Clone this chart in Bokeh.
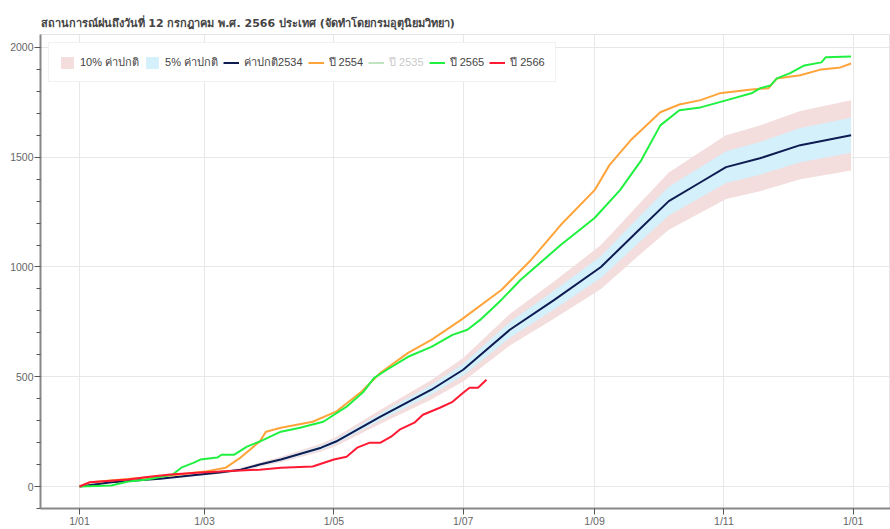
from bokeh.plotting import figure
from bokeh.models import Range1d, FixedTicker, ColumnDataSource, Legend, LegendItem
from bokeh.embed import file_html
from bokeh.resources import INLINE

# ---------------- data (day of year, 0 = 1 Jan) ----------------
tick_days = [0, 59, 120, 181, 243, 304, 365]
tick_labels = ["1/01", "1/03", "1/05", "1/07", "1/09", "1/11", "1/01"]

normal_days = [0, 15, 38, 57, 66, 76, 85, 95, 114, 121, 142, 166, 181, 203, 224,
               246, 264, 278, 293, 305, 321, 340, 364]
normal_vals = [0, 20, 36, 55, 64, 77, 100, 123, 177, 205, 318, 441, 532, 714, 850,
               1000, 1170, 1300, 1386, 1455, 1495, 1555, 1600]

y2554_days = [0, 5, 24, 43, 59, 69, 76, 85, 88, 95, 110, 121, 133, 142, 155, 166,
              180, 199, 213, 227, 243, 250, 260, 274, 283, 293, 302, 317, 325, 329,
              340, 350, 359, 364]
y2554_vals = [0, 20, 35, 50, 68, 86, 132, 205, 250, 268, 295, 341, 432, 518, 609, 668,
              759, 895, 1032, 1191, 1350, 1464, 1577, 1705, 1740, 1760, 1791, 1809, 1814, 1859,
              1873, 1900, 1909, 1927]

# ปี 2535 is hidden (toggled off) in the reference: its values cannot be read
y2535_days = [0]
y2535_vals = [float("nan")]

y2565_days = [0, 15, 23, 32, 44, 48, 54, 57, 65, 67, 73, 79, 85, 95, 104, 115, 126,
              134, 139, 145, 155, 166, 176, 183, 189, 199, 208, 227, 243, 255, 265,
              274, 283, 293, 305, 317, 321, 326, 329, 335, 342, 350, 352, 364]
y2565_vals = [0, 5, 23, 32, 55, 86, 109, 123, 132, 145, 145, 182, 205, 250, 268, 295, 364,
              432, 495, 532, 591, 636, 691, 714, 759, 850, 941, 1100, 1223, 1350, 1486,
              1645, 1714, 1727, 1759, 1791, 1814, 1827, 1859, 1882, 1918, 1932, 1955, 1959]

y2566_days = [0, 5, 23, 33, 43, 57, 66, 85, 95, 110, 120, 126, 131, 137, 142, 147, 151,
              158, 162, 170, 176, 181, 184, 188, 191, 192]
y2566_vals = [0, 20, 32, 45, 55, 64, 68, 77, 86, 91, 123, 136, 177, 200, 200, 227, 259,
              291, 327, 359, 386, 427, 450, 450, 477, 486]

title_text = "สถานการณ์ฝนถึงวันที่ 12 กรกฎาคม พ.ศ. 2566 ประเทศ (จัดทำโดยกรมอุตุนิยมวิทยา)"

# ---------------- figure ----------------
p = figure(width=890, height=529, output_backend="svg", toolbar_location=None,
           x_range=Range1d(-18.4, 382.6), y_range=Range1d(-100, 2059),
           title=title_text, min_border_right=0, min_border_left=40,
           min_border_bottom=20, min_border_top=34)
p.title.text_font_size = "11px"
p.title.text_color = "#444444"
p.title.text_font = "DejaVu Sans"

band = ColumnDataSource(dict(
    x=normal_days,
    lo10=[v * 0.90 for v in normal_vals], hi10=[v * 1.10 for v in normal_vals],
    lo5=[v * 0.95 for v in normal_vals], hi5=[v * 1.05 for v in normal_vals],
))
r10 = p.varea(x="x", y1="lo10", y2="hi10", source=band, fill_color="#f3dddd")
r5 = p.varea(x="x", y1="lo5", y2="hi5", source=band, fill_color="#d4f0fb")

r_norm = p.line(normal_days, normal_vals, line_color="#0e1c52", line_width=2)
r_2554 = p.line(y2554_days, y2554_vals, line_color="#ffa43a", line_width=2)
r_2535 = p.line(y2535_days, y2535_vals, line_color="#2ca02c", line_width=2, visible=False)
r_2565 = p.line(y2565_days, y2565_vals, line_color="#20f040", line_width=2)
r_2566 = p.line(y2566_days, y2566_vals, line_color="#ff1a33", line_width=2)

legend = Legend(items=[
    LegendItem(label="10% ค่าปกติ", renderers=[r10]),
    LegendItem(label="5% ค่าปกติ", renderers=[r5]),
    LegendItem(label="ค่าปกติ2534", renderers=[r_norm]),
    LegendItem(label="ปี 2554", renderers=[r_2554]),
    LegendItem(label="ปี 2535", renderers=[r_2535]),
    LegendItem(label="ปี 2565", renderers=[r_2565]),
    LegendItem(label="ปี 2566", renderers=[r_2566]),
], location="top_left", orientation="horizontal", click_policy="hide")
legend.label_text_font_size = "11px"
legend.label_text_color = "#444444"
legend.glyph_width = 16
legend.glyph_height = 15
legend.label_standoff = 5
legend.spacing = 5
legend.padding = 10
legend.margin = 8
legend.border_line_color = "#e5e5e5"
legend.background_fill_alpha = 1.0
p.add_layout(legend)

# axes
p.xaxis.ticker = FixedTicker(ticks=tick_days, minor_ticks=[])
p.xaxis.major_label_overrides = {d: l for d, l in zip(tick_days, tick_labels)}
for ax in (p.xaxis[0], p.yaxis[0]):
    ax.axis_line_color = "#888888"
    ax.axis_line_width = 2
    ax.major_tick_line_color = "#555555"
    ax.minor_tick_line_color = "#555555"
    ax.major_label_text_color = "#666666"
    ax.major_label_text_font_size = "10.5px"
    ax.major_tick_out = 6
    ax.major_tick_in = 0
    ax.minor_tick_out = 4
    ax.minor_tick_in = 0
p.xaxis.major_label_standoff = 0
p.yaxis.major_label_standoff = 1
p.yaxis.ticker.desired_num_ticks = 5

p.xgrid.ticker = FixedTicker(ticks=tick_days)
p.grid.grid_line_color = "#e8e8e8"
p.outline_line_color = "#e5e5e5"

open("out.html", "w").write(file_html(p, INLINE))
